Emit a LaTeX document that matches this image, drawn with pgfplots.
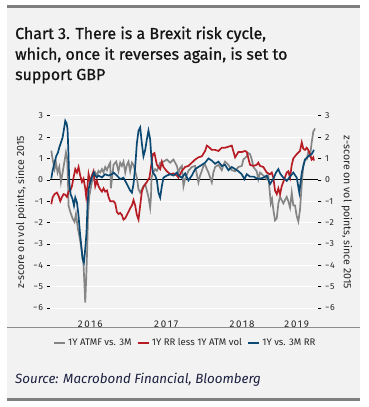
\documentclass[border=0pt]{standalone}
\usepackage{pgfplots}
\pgfplotsset{compat=1.18}
\usepackage{fontspec}
\setmainfont{Fira Sans}
\definecolor{panel}{HTML}{F2F2F2}
\definecolor{rulec}{HTML}{7F7F7F}
\definecolor{sepc}{HTML}{8C8C8C}
\definecolor{cgray}{HTML}{858585}
\definecolor{cred}{HTML}{B71C24}
\definecolor{cblue}{HTML}{0B4872}
\definecolor{ttl}{HTML}{141414}
\definecolor{src}{HTML}{1C1F3F}

\pgfplotstableread{
x y
2015.987 1.36
2016.004 0.97
2016.030 0.50
2016.049 0.80
2016.070 0.34
2016.092 0.60
2016.114 -0.10
2016.136 0.34
2016.158 0.80
2016.180 1.28
2016.197 0.97
2016.207 -0.10
2016.214 -1.20
2016.237 -1.50
2016.267 -1.80
2016.293 -1.97
2016.312 -1.60
2016.338 -2.30
2016.364 -2.77
2016.391 -3.40
2016.412 -4.00
2016.425 -4.98
2016.434 -5.74
2016.447 -4.60
2016.461 -3.10
2016.470 -1.70
2016.487 -0.76
2016.504 -0.45
2016.522 -0.10
2016.543 0.03
2016.566 0.34
2016.588 0.20
2016.609 0.42
2016.632 0.34
2016.654 0.50
2016.675 0.34
2016.697 0.60
2016.720 0.45
2016.741 0.65
2016.763 0.80
2016.772 -0.40
2016.807 0.70
2016.842 0.85
2016.872 0.40
2016.895 0.80
2016.917 0.65
2016.938 0.85
2016.961 0.34
2016.983 0.70
2017.004 0.85
2017.026 0.40
2017.049 0.80
2017.070 0.70
2017.092 0.40
2017.114 0.10
2017.136 -0.45
2017.158 -0.60
2017.180 -0.45
2017.201 -0.30
2017.224 -0.20
2017.246 -0.50
2017.267 -0.80
2017.289 -1.30
2017.300 -0.80
2017.307 0.10
2017.329 0.34
2017.355 0.50
2017.378 0.42
2017.399 0.60
2017.421 0.80
2017.464 0.85
2017.509 0.95
2017.553 0.80
2017.596 0.95
2017.641 0.65
2017.662 0.34
2017.684 0.55
2017.707 0.65
2017.728 -0.30
2017.750 0.05
2017.793 0.42
2017.838 0.60
2017.882 0.65
2017.925 -0.12
2017.947 0.20
2017.970 0.42
2017.991 0.65
2018.013 0.70
2018.036 0.50
2018.057 0.34
2018.101 -0.12
2018.122 0.34
2018.145 0.60
2018.188 0.70
2018.233 0.45
2018.254 0.70
2018.276 0.85
2018.320 0.70
2018.364 0.45
2018.408 0.40
2018.451 0.60
2018.496 0.65
2018.517 0.95
2018.562 1.10
2018.583 1.25
2018.605 1.20
2018.628 0.95
2018.649 0.60
2018.693 0.40
2018.714 0.03
2018.737 0.34
2018.780 0.20
2018.825 0.03
2018.846 0.20
2018.878 -1.10
2018.895 -0.90
2018.912 -1.40
2018.934 -1.90
2018.957 -1.80
2018.978 -1.10
2019.000 -0.80
2019.022 -0.95
2019.043 -1.10
2019.088 -0.80
2019.109 -1.00
2019.132 -1.30
2019.154 -0.60
2019.175 -1.20
2019.197 -1.20
2019.220 -1.70
2019.241 -1.95
2019.263 -1.40
2019.286 -0.20
2019.307 0.70
2019.329 0.95
2019.351 0.95
2019.372 1.30
2019.395 1.10
2019.417 1.75
2019.438 2.25
2019.461 2.40
}\grayt

\pgfplotstableread{
x y
2015.987 -1.14
2016.004 -0.83
2016.030 -0.67
2016.061 -0.60
2016.083 -0.75
2016.105 -1.00
2016.128 -0.80
2016.149 -0.67
2016.171 -0.70
2016.193 -0.80
2016.214 -0.55
2016.237 -0.50
2016.259 -0.30
2016.280 0.10
2016.303 0.50
2016.325 0.34
2016.346 0.60
2016.368 0.20
2016.391 -0.10
2016.412 0.05
2016.434 -0.40
2016.447 -0.80
2016.464 -0.30
2016.478 0.27
2016.500 -0.10
2016.522 0.20
2016.543 0.40
2016.566 -0.30
2016.588 -0.05
2016.609 -0.30
2016.632 -0.45
2016.654 -0.55
2016.675 -0.40
2016.697 -0.55
2016.720 -0.50
2016.741 -0.80
2016.763 -1.00
2016.807 -1.00
2016.829 -1.10
2016.851 -1.50
2016.872 -1.60
2016.895 -1.55
2016.917 -1.65
2016.938 -1.86
2016.961 -1.80
2016.983 -1.64
2017.004 -1.50
2017.026 -1.33
2017.049 -1.20
2017.070 -0.95
2017.092 -1.20
2017.114 -1.64
2017.136 -1.86
2017.158 -1.20
2017.180 -0.55
2017.201 -0.33
2017.246 -0.10
2017.280 0.10
2017.299 0.56
2017.325 1.20
2017.346 1.25
2017.378 0.70
2017.421 0.50
2017.443 0.85
2017.464 0.60
2017.509 0.40
2017.553 0.26
2017.596 0.30
2017.641 0.20
2017.662 0.10
2017.707 0.42
2017.750 0.60
2017.793 0.65
2017.838 0.80
2017.882 0.95
2017.925 1.05
2017.970 1.10
2018.013 1.35
2018.036 1.60
2018.057 1.55
2018.101 1.40
2018.145 1.40
2018.188 1.35
2018.233 1.50
2018.276 1.50
2018.320 1.55
2018.364 1.60
2018.408 1.05
2018.451 1.30
2018.496 1.30
2018.540 1.35
2018.562 1.30
2018.583 1.00
2018.605 0.70
2018.649 0.65
2018.693 0.70
2018.714 0.80
2018.737 0.65
2018.780 0.60
2018.825 0.34
2018.868 0.26
2018.891 0.34
2018.912 0.10
2018.934 -0.50
2018.957 -0.67
2018.978 -0.40
2019.000 -0.67
2019.022 -0.30
2019.043 -0.10
2019.088 0.34
2019.109 0.40
2019.132 0.10
2019.154 0.70
2019.175 1.00
2019.197 1.10
2019.220 1.20
2019.263 1.35
2019.286 1.75
2019.307 1.45
2019.329 1.40
2019.351 1.50
2019.372 1.40
2019.395 1.20
2019.417 0.95
2019.438 1.05
2019.447 0.90
}\redt

\pgfplotstableread{
x y
2015.987 0.06
2016.004 0.42
2016.030 0.81
2016.053 1.12
2016.075 1.28
2016.092 1.51
2016.114 1.74
2016.136 1.98
2016.154 2.37
2016.171 2.76
2016.188 2.65
2016.201 2.37
2016.211 1.43
2016.224 -0.12
2016.241 -0.67
2016.267 -0.90
2016.286 -1.21
2016.303 -0.83
2016.325 -1.06
2016.346 -1.68
2016.364 -2.46
2016.382 -3.08
2016.399 -3.70
2016.417 -3.86
2016.434 -3.24
2016.451 -2.46
2016.464 -1.21
2016.478 -0.44
2016.500 -0.12
2016.522 0.11
2016.549 0.34
2016.566 0.20
2016.588 0.11
2016.609 0.20
2016.654 0.11
2016.697 0.26
2016.741 0.20
2016.786 0.26
2016.807 0.34
2016.851 0.20
2016.895 0.03
2016.938 0.10
2016.983 -0.20
2017.026 -0.50
2017.049 -0.60
2017.070 -0.20
2017.092 0.60
2017.114 1.70
2017.136 2.30
2017.158 2.45
2017.180 1.70
2017.201 1.10
2017.224 1.40
2017.246 1.90
2017.267 2.30
2017.289 1.90
2017.307 0.95
2017.325 0.34
2017.355 0.20
2017.378 -0.03
2017.399 -0.60
2017.421 -0.83
2017.443 -0.30
2017.464 0.10
2017.509 0.20
2017.553 0.26
2017.596 0.20
2017.641 0.34
2017.662 0.20
2017.707 0.10
2017.750 0.30
2017.793 -0.03
2017.838 0.20
2017.882 0.50
2017.925 0.60
2017.970 0.70
2018.013 0.80
2018.057 1.00
2018.101 0.90
2018.145 0.75
2018.188 0.85
2018.233 0.65
2018.276 0.70
2018.320 0.45
2018.364 0.60
2018.408 0.50
2018.451 0.40
2018.496 0.26
2018.530 0.03
2018.562 0.26
2018.605 0.15
2018.649 0.15
2018.714 0.03
2018.780 0.10
2018.825 0.20
2018.868 -0.20
2018.912 0.05
2018.947 0.34
2018.978 0.50
2019.000 0.30
2019.043 0.10
2019.088 -0.05
2019.132 0.15
2019.175 0.34
2019.220 0.10
2019.254 -0.60
2019.286 0.34
2019.329 0.95
2019.372 1.10
2019.417 1.20
2019.447 1.40
}\bluet

\begin{document}
\begin{tikzpicture}
\path[fill=white] (0,0) rectangle (369bp,-407bp);
\fill[panel] (7bp,-5bp) rectangle (360bp,-400bp);
\fill[rulec] (7bp,-5bp) rectangle (360bp,-8bp);
\fill[rulec] (7bp,-397.5bp) rectangle (360bp,-400.5bp);
\fill[sepc] (7bp,-326.8bp) rectangle (360bp,-328.3bp);

\begin{scope}[every node/.style={anchor=base west, inner sep=0pt, text=ttl, font=\fontsize{16}{19}\selectfont\addfontfeatures{FakeBold=0.8}}]
\node at (15bp,-39bp) {Chart 3. There is a Brexit risk cycle,};
\node at (15bp,-59.7bp) {which, once it reverses again, is set to};
\node at (15bp,-80bp) {support GBP};
\end{scope}
\node[anchor=base west, inner sep=0pt, text=src, font=\fontsize{13.4}{15}\selectfont\itshape] at (15bp,-383bp) {Source: Macrobond Financial, Bloomberg};

\begin{axis}[
  at={(50bp,-313.4bp)}, anchor=south west,
  scale only axis, width=268bp, height=202bp,
  xmin=2015.97, xmax=2019.5, ymin=-6.25, ymax=3.2,
  axis line style={draw=none},
  tick align=outside,
  ytick={-6,-5,-4,-3,-2,-1,0,1,2,3},
  yticklabels={−6,−5,−4,−3,−2,−1,0,1,2,3},
  major tick length=3.5bp, minor tick length=3.5bp,
  tick style={black, line width=0.6bp},
  ymajorgrids, grid style={white, line width=1bp},
  extra y ticks={0}, extra y tick labels={},
  extra y tick style={grid style={black, line width=0.8bp}},
  xtick={2016.5,2017.5,2018.5,2019.22},
  xticklabels={2016,2017,2018,2019},
  xtick style={draw=none},
  minor xtick={2016,2017,2018,2019},
  /pgf/number format/assume math mode=true,
  yticklabel style={font=\fontsize{8.8}{10}\selectfont\addfontfeatures{LetterSpace=8}, text=black!85},
  xticklabel style={font=\fontsize{9.8}{11}\selectfont\addfontfeatures{LetterSpace=18}, text=black!85},
  ylabel={z-score on vol points, since 2015},
  ylabel style={at={(axis description cs:-0.108,0.5)}, anchor=center, font=\fontsize{10.6}{12}\selectfont, text=black!85},
  legend style={at={(0.504,-0.1465)}, anchor=center, draw=none, fill=none,
    font=\fontsize{9.6}{11}\selectfont, text=black!85,
    /tikz/every even column/.append style={column sep=3bp}},
  legend columns=3, legend cell align=left,
  legend image code/.code={\draw[#1, line width=2.4bp] (0,0) -- (11bp,0);},
]
\addplot[cgray, line width=1.7bp] table {\grayt};
\addlegendentry{1Y ATMF vs. 3M}
\addplot[cred, line width=1.7bp] table {\redt};
\addlegendentry{1Y RR less 1Y ATM vol}
\addplot[cblue, line width=1.7bp] table {\bluet};
\addlegendentry{1Y vs. 3M RR}
\end{axis}

\begin{axis}[
  at={(50bp,-313.4bp)}, anchor=south west,
  scale only axis, width=268bp, height=202bp,
  xmin=2015.97, xmax=2019.5, ymin=-6.25, ymax=3.2,
  axis x line=none, axis y line*=right, axis line style={draw=none},
  tick align=outside,
  ytick={-6,-5,-4,-3,-2,-1,0,1,2,3},
  yticklabels={−6,−5,−4,−3,−2,−1,0,1,2,3},
  major tick length=3.5bp,
  tick style={black, line width=0.6bp},
  yticklabel style={font=\fontsize{8.8}{10}\selectfont\addfontfeatures{LetterSpace=8}, text=black!85},
  ylabel={z-score on vol points, since 2015},
  ylabel style={at={(axis description cs:1.108,0.5)}, anchor=center, rotate=180, font=\fontsize{10.6}{12}\selectfont, text=black!85},
]
\addplot[draw=none] coordinates {(2016,0)};
\end{axis}
\end{tikzpicture}
\end{document}
